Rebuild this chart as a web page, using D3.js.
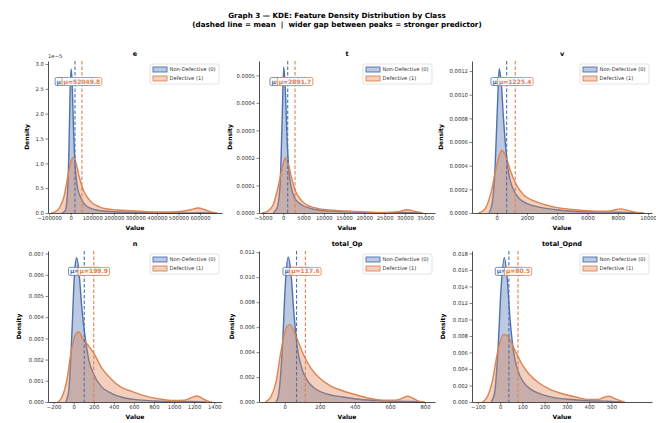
<!DOCTYPE html>
<html>
<head>
<meta charset="utf-8">
<script src="https://cdn.jsdelivr.net/npm/d3@7"></script>
<style>
  body { margin: 0; background: #fff; }
  text { font-family: "DejaVu Sans", sans-serif; }
</style>
</head>
<body>
<svg id="chart" width="656" height="423"></svg>
<script>
// Feature names (one panel each) and class names
const features = ['e', 't', 'v', 'n', 'total_Op', 'total_Opnd'];
const classes = ['Non-Defective (0)', 'Defective (1)'];
const colors = ['#4C72B0', '#DD8452'];

// Class means (dashed lines)
const meanNonDefective = [19874.6, 1090.4, 660.3, 105.2, 67.1, 39.6];
const meanDefective = [52049.8, 2891.7, 1225.4, 199.9, 117.6, 80.5];

// KDE curves, [value, density]
// e density is in units of 1e-5
const eNonDef = [[-40000,0],[-25000,0.05],[-15000,0.4],[-8000,1.3],[-3000,2.4],[2000,2.9],[7000,2.6],
  [13000,1.7],[20000,1.0],[30000,0.55],[45000,0.32],[60000,0.2],[80000,0.12],[110000,0.07],[150000,0.04],
  [200000,0.025],[260000,0.015],[330000,0.008],[400000,0.003],[480000,0.001],[560000,0.002],[600000,0.004],
  [640000,0.001],[670000,0]];
const eDef = [[-90000,0],[-70000,0.03],[-50000,0.12],[-30000,0.35],[-15000,0.7],[0,1.02],[12000,1.12],
  [25000,1.0],[40000,0.72],[60000,0.45],[80000,0.3],[100000,0.2],[130000,0.13],[170000,0.08],[220000,0.06],
  [280000,0.045],[340000,0.03],[400000,0.02],[460000,0.02],[520000,0.035],[560000,0.07],[590000,0.1],
  [620000,0.07],[650000,0.02],[680000,0]];

const tNonDef = [[-2500,0],[-1500,0.00002],[-800,0.0001],[-300,0.00033],[100,0.00053],[500,0.00045],
  [900,0.00028],[1400,0.00015],[2000,0.00009],[3000,0.00005],[4500,0.00003],[6500,0.000018],[9000,0.00001],
  [13000,0.000006],[18000,0.000003],[24000,0.000001],[30000,0.000002],[34000,0]];
const tDef = [[-5200,0],[-4000,0.000005],[-2500,0.00003],[-1200,0.0001],[0,0.00018],[500,0.0002],
  [1200,0.00018],[2000,0.00013],[3000,0.00008],[4500,0.000045],[6500,0.000025],[9000,0.000015],
  [12000,0.00001],[16000,0.000007],[20000,0.000004],[25000,0.000002],[28500,0.000005],[30500,0.000012],
  [32500,0.000006],[34500,0]];

const vNonDef = [[-500,0],[-300,0.00008],[-100,0.0004],[50,0.0009],[170,0.00122],[300,0.0011],[450,0.0008],
  [600,0.00055],[800,0.00033],[1100,0.0002],[1500,0.00012],[2000,0.00008],[2800,0.00005],[3800,0.00003],
  [5000,0.000015],[6500,0.000008],[8000,0.000006],[9000,0.000002],[9700,0]];
const vDef = [[-1200,0],[-800,0.00003],[-400,0.00016],[0,0.0004],[330,0.00053],[600,0.00048],[900,0.00036],
  [1300,0.00024],[1800,0.00015],[2500,0.0001],[3200,0.00007],[4000,0.000045],[5000,0.00003],[6000,0.00002],
  [7000,0.000015],[7600,0.00002],[8200,0.000035],[8700,0.00002],[9300,0.000005],[9700,0]];

const nNonDef = [[-80,0],[-50,0.0005],[-20,0.003],[10,0.0062],[30,0.0068],[55,0.006],[80,0.0045],
  [105,0.0034],[150,0.002],[200,0.0013],[280,0.0007],[380,0.0004],[500,0.0002],[650,0.0001],[800,0.00005],
  [1000,0.00002],[1150,0.00003],[1250,0.00002],[1320,0]];
const nDef = [[-160,0],[-120,0.0002],[-70,0.001],[-20,0.0025],[20,0.0032],[50,0.0033],[90,0.003],
  [140,0.0027],[200,0.0023],[280,0.0016],[370,0.0011],[470,0.0007],[580,0.0005],[700,0.0003],[850,0.00015],
  [1000,0.00007],[1100,0.00008],[1180,0.00022],[1230,0.00028],[1290,0.00015],[1350,0.00002],[1380,0]];

const opNonDef = [[-50,0],[-35,0.0006],[-15,0.004],[5,0.0098],[19,0.0116],[35,0.0104],[50,0.0075],
  [70,0.0045],[95,0.0028],[130,0.0017],[180,0.001],[250,0.0006],[330,0.0004],[430,0.0002],[550,0.0001],
  [650,0.00006],[720,0.00004],[790,0]];
const opDef = [[-110,0],[-80,0.0004],[-50,0.0016],[-20,0.0042],[10,0.006],[30,0.0062],[55,0.0056],
  [80,0.0047],[110,0.0037],[150,0.0027],[200,0.0019],[260,0.0013],[330,0.0009],[400,0.0006],[480,0.0003],
  [560,0.00015],[630,0.00015],[670,0.0003],[700,0.00046],[730,0.0003],[770,0.00005],[800,0]];

const opndNonDef = [[-40,0],[-25,0.001],[-10,0.006],[5,0.014],[19,0.0175],[32,0.015],[45,0.01],
  [60,0.0062],[80,0.0038],[105,0.0024],[140,0.0015],[190,0.0009],[250,0.0005],[320,0.0003],[400,0.00015],
  [470,0.0001],[520,0.00005],[550,0]];
const opndDef = [[-80,0],[-60,0.0005],[-35,0.0025],[-10,0.0062],[15,0.0082],[30,0.0081],[50,0.0072],
  [75,0.0058],[100,0.0045],[130,0.0034],[170,0.0024],[220,0.0016],[280,0.001],[340,0.0006],[400,0.0003],
  [440,0.0003],[470,0.0006],[490,0.0007],[515,0.0004],[545,0.0001],[560,0]];

// Tick values
const xTicks = [
  [-100000, 0, 100000, 200000, 300000, 400000, 500000, 600000],
  [-5000, 0, 5000, 10000, 15000, 20000, 25000, 30000, 35000],
  [0, 2000, 4000, 6000, 8000, 10000],
  [-200, 0, 200, 400, 600, 800, 1000, 1200, 1400],
  [0, 200, 400, 600, 800],
  [-100, 0, 100, 200, 300, 400, 500]
];
const yTicks = [
  [0, 0.5, 1.0, 1.5, 2.0, 2.5, 3.0],
  [0, 0.0001, 0.0002, 0.0003, 0.0004, 0.0005],
  [0, 0.0002, 0.0004, 0.0006, 0.0008, 0.0010, 0.0012],
  [0, 0.001, 0.002, 0.003, 0.004, 0.005, 0.006, 0.007],
  [0, 0.002, 0.004, 0.006, 0.008, 0.010, 0.012],
  [0, 0.002, 0.004, 0.006, 0.008, 0.010, 0.012, 0.014, 0.016, 0.018]
];
const yFormats = ['.1f', '.4f', '.4f', '.3f', '.3f', '.3f'];

const curves = [
  [eNonDef, eDef], [tNonDef, tDef], [vNonDef, vDef],
  [nNonDef, nDef], [opNonDef, opDef], [opndNonDef, opndDef]
];

// axis limits
const xDomains = [[-105300, 702000], [-6000, 37450], [-1630, 10260], [-256, 1478], [-147, 857], [-126, 682]];
const yMaxes = [3.06, 0.000552, 0.001285, 0.00712, 0.0121, 0.0183];

// layout
const colLeft = [48, 259, 472];
const colRight = [222, 435, 652];
const rowTop = [61, 251];
const rowBottom = [213, 402];
const densityLabelX = [29, 232, 443, 21, 234, 445];
const FILL_OPACITY = 0.38;
const TICK_FONT = 5.3;

const svg = d3.select('#chart');

// figure title
svg.append('text')
  .attr('x', 337).attr('y', 17.5)
  .attr('text-anchor', 'middle')
  .attr('font-size', 7.2).attr('font-weight', 'bold')
  .text('Graph 3 \u2014 KDE: Feature Density Distribution by Class');
svg.append('text')
  .attr('x', 337).attr('y', 27.3)
  .attr('text-anchor', 'middle')
  .attr('font-size', 7.2).attr('font-weight', 'bold')
  .style('white-space', 'pre')
  .text('(dashed line = mean  |  wider gap between peaks = stronger predictor)');

features.forEach((name, i) => {
  const col = i % 3, row = Math.floor(i / 3);
  const left = colLeft[col], right = colRight[col];
  const top = rowTop[row], bottom = rowBottom[row];

  const x = d3.scaleLinear().domain(xDomains[i]).range([left, right]);
  const y = d3.scaleLinear().domain([0, yMaxes[i]]).range([bottom, top]);

  const g = svg.append('g');

  const area = d3.area()
    .x(d => x(d[0])).y0(y(0)).y1(d => y(d[1]))
    .curve(d3.curveMonotoneX);
  const line = d3.line()
    .x(d => x(d[0])).y(d => y(d[1]))
    .curve(d3.curveMonotoneX);

  // KDE fills + outlines, non-defective first
  curves[i].forEach((data, k) => {
    g.append('path')
      .datum(data)
      .attr('d', area)
      .attr('fill', colors[k])
      .attr('fill-opacity', FILL_OPACITY);
    g.append('path')
      .datum(data)
      .attr('d', line)
      .attr('fill', 'none')
      .attr('stroke', colors[k])
      .attr('stroke-width', 1.4);
  });

  // mean lines
  const means = [meanNonDefective[i], meanDefective[i]];
  means.forEach((m, k) => {
    g.append('line')
      .attr('x1', x(m)).attr('x2', x(m))
      .attr('y1', top).attr('y2', bottom)
      .attr('stroke', colors[k])
      .attr('stroke-width', 1.1)
      .attr('stroke-dasharray', '3.5,2');
  });

  // mean labels (the defective one sits on top, like the original)
  const labelY = bottom - 0.865 * (bottom - top);
  means.forEach((m, k) => {
    const lg = g.append('g');
    const txt = lg.append('text')
      .attr('x', x(m)).attr('y', labelY + 2.1)
      .attr('text-anchor', 'middle')
      .attr('font-size', 6).attr('font-weight', 'bold')
      .attr('fill', colors[k])
      .text('\u03bc=' + d3.format('.1f')(m));
    const bb = txt.node().getBBox();
    lg.insert('rect', 'text')
      .attr('x', bb.x - 1.5).attr('y', labelY - 4)
      .attr('width', bb.width + 3).attr('height', 8)
      .attr('rx', 1.5)
      .attr('fill', '#fff').attr('fill-opacity', 0.85)
      .attr('stroke', colors[k]).attr('stroke-width', 0.8);
  });

  // axes
  const xAxis = g.append('g')
    .attr('transform', `translate(0,${bottom})`)
    .call(d3.axisBottom(x).tickValues(xTicks[i]).tickSize(2.5).tickSizeOuter(0)
      .tickFormat(d3.format('d')));
  const yAxis = g.append('g')
    .attr('transform', `translate(${left},0)`)
    .call(d3.axisLeft(y).tickValues(yTicks[i]).tickSize(2.5).tickSizeOuter(0)
      .tickFormat(d3.format(yFormats[i])));
  [xAxis, yAxis].forEach(a => {
    a.attr('font-family', '"DejaVu Sans", sans-serif').attr('font-size', TICK_FONT);
    a.select('.domain').attr('stroke', '#222').attr('stroke-width', 0.8);
    a.selectAll('.tick line').attr('stroke', '#333').attr('stroke-width', 0.6);
    a.selectAll('.tick text').attr('fill', '#333');
  });
  xAxis.selectAll('.tick text').attr('dy', '0.6em').attr('y', 3.5);
  yAxis.selectAll('.tick text').attr('x', -4);

  if (i === 0) {
    g.append('text')
      .attr('x', left).attr('y', top - 3)
      .attr('font-size', TICK_FONT).attr('fill', '#333')
      .text('1e\u22125');
  }

  // titles and axis labels
  g.append('text')
    .attr('x', (left + right) / 2).attr('y', top - 5)
    .attr('text-anchor', 'middle')
    .attr('font-size', 6.5).attr('font-weight', 'bold')
    .text(name);
  g.append('text')
    .attr('x', (left + right) / 2).attr('y', bottom + 17)
    .attr('text-anchor', 'middle')
    .attr('font-size', 6).attr('font-weight', 'bold')
    .text('Value');
  g.append('text')
    .attr('transform', `translate(${densityLabelX[i]},${(top + bottom) / 2}) rotate(-90)`)
    .attr('text-anchor', 'middle')
    .attr('font-size', 6).attr('font-weight', 'bold')
    .text('Density');

  // legend
  const lw = 69, lh = 20;
  const lx = right - 3 - lw, ly = top + 3;
  const leg = g.append('g').attr('transform', `translate(${lx},${ly})`);
  leg.append('rect')
    .attr('width', lw).attr('height', lh).attr('rx', 2)
    .attr('fill', '#fff').attr('fill-opacity', 0.8)
    .attr('stroke', '#d0d0d0').attr('stroke-width', 0.6);
  classes.forEach((c, k) => {
    const yy = 5.5 + k * 9;
    leg.append('rect')
      .attr('x', 3).attr('y', yy - 2.5)
      .attr('width', 14).attr('height', 5)
      .attr('fill', colors[k]).attr('fill-opacity', FILL_OPACITY)
      .attr('stroke', colors[k]).attr('stroke-width', 0.9);
    leg.append('text')
      .attr('x', 19.5).attr('y', yy + 1.8)
      .attr('font-size', 5.2).attr('fill', '#333')
      .text(c);
  });
});
</script>
</body>
</html>
